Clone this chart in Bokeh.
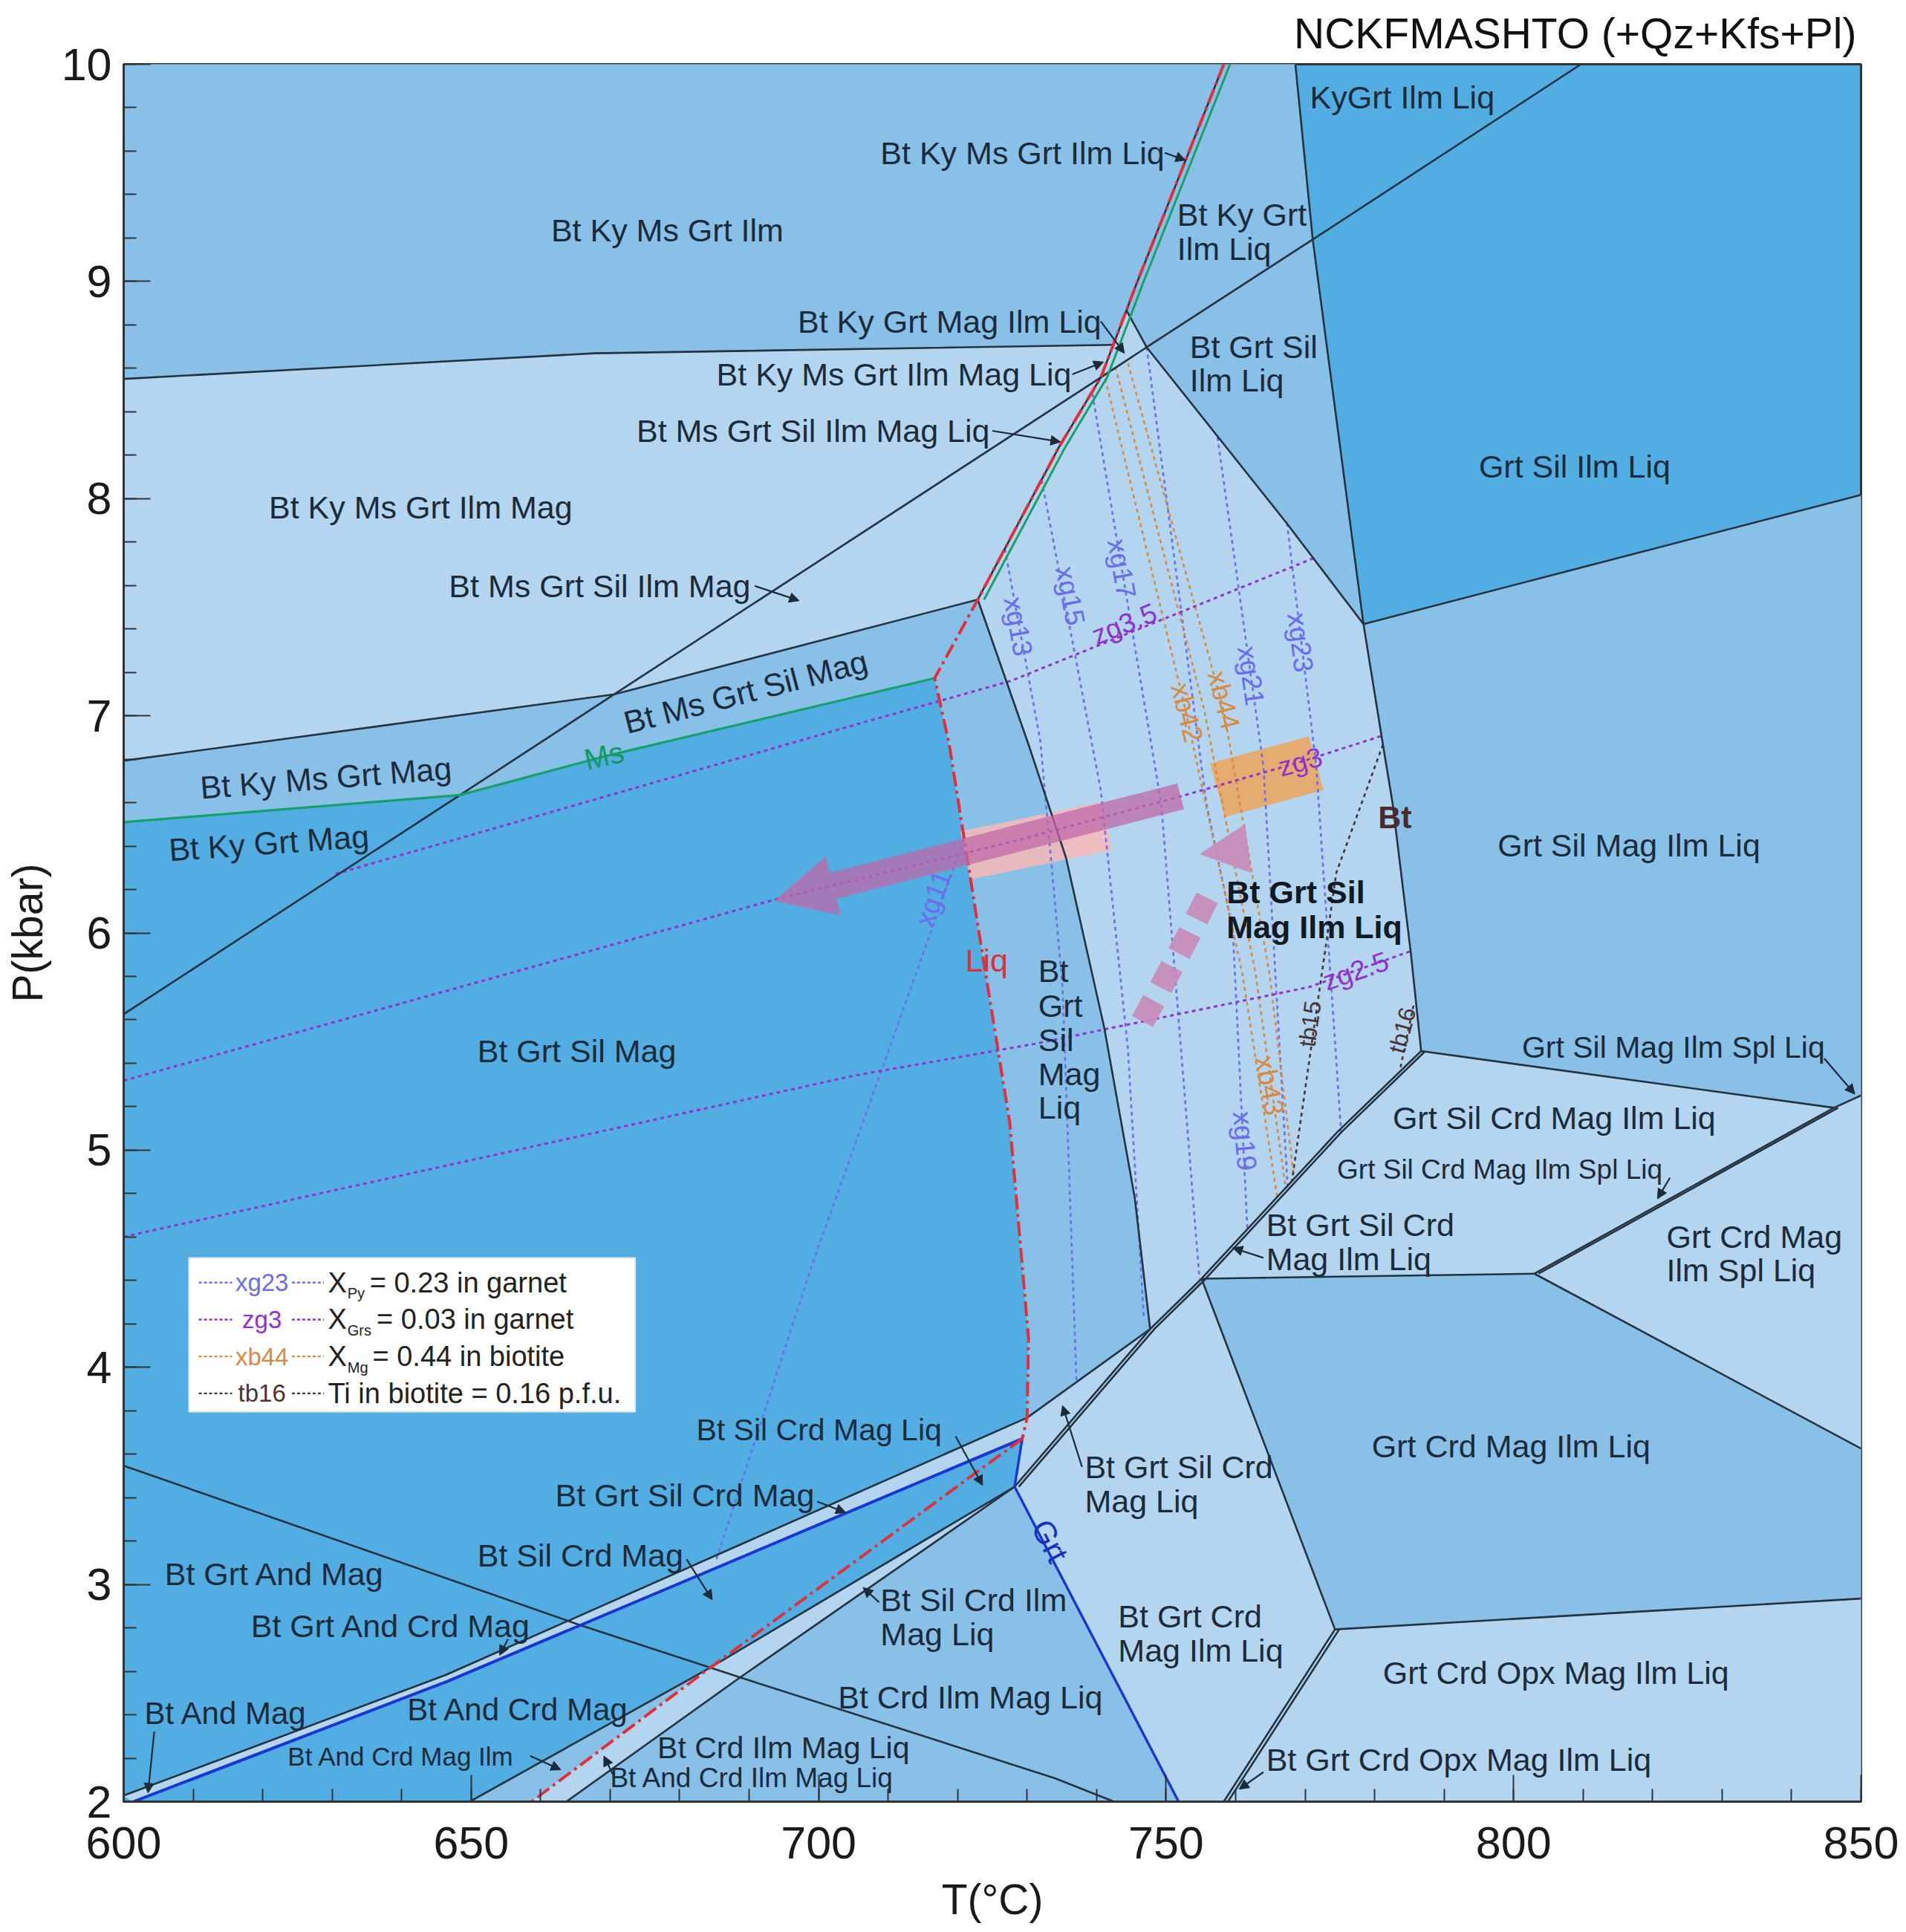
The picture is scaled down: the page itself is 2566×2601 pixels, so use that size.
import math
from bokeh.plotting import figure
from bokeh.models import (ColumnDataSource, Arrow, NormalHead,
                          SingleIntervalTicker, Range1d)
from bokeh.core.properties import value
from bokeh.embed import file_html
from bokeh.resources import INLINE

FONT = "Liberation Sans"

# ------------------------------------------------------------------
# DATA : nodes of the pseudosection (name, T in degC, P in kbar)
# ------------------------------------------------------------------
FRAME_NODES = [("TL", 600, 10), ("TR", 850, 10), ("BL", 600, 2), ("BR", 850, 2)]
UPPER_NODES = [
    ("S_top", 758.3, 10), ("V_top", 768.6, 10), ("D_top", 809.7, 10),
    ("H1_L", 600, 8.551), ("H1_m", 667.7, 8.669), ("H1_R", 742.4, 8.708),
    ("S1", 745.7, 8.986), ("M_top", 744.3, 8.867), ("S_diag", 740.6, 8.558),
    ("S3", 734.6, 8.238), ("K1", 722.9, 7.535), ("K2", 716.7, 7.173),
    ("M_diag", 747.2, 8.697), ("M2", 767.3, 7.889), ("N_R1", 778.4, 7.422),
    ("V_diag", 771.1, 9.193), ("R1", 850, 8.017),
    ("U_L", 600, 6.793), ("U_D", 670.6, 7.099), ("Ms_L", 600, 6.510),
    ("G1", 648.4, 6.635), ("Ms2", 668.8, 6.810), ("KS_L", 600, 5.626),
]
CENTRAL_NODES = [
    ("Bt1", 781.2, 6.867), ("Bt2", 782.6, 6.595), ("Bt3", 785.2, 5.912),
    ("N_R2", 786.7, 5.456), ("Sp", 846.1, 5.195), ("R2", 850, 5.252),
    ("N_C", 803.0, 4.431), ("R3", 850, 3.626), ("R4", 850, 2.935),
    ("E1", 774.3, 2.793), ("Ebot", 758.3, 2.0), ("Dn", 755.1, 4.408),
    ("D3", 774.6, 5.082), ("Dm", 747.7, 4.176), ("Dg", 728.2, 3.450),
    ("Gbot", 751.8, 2.0), ("Q", 730.0, 3.768), ("Qb", 729.3, 3.671),
    ("C1", 730.2, 6.868), ("C2", 735.6, 6.346), ("C3", 741.1, 5.564),
    ("C4", 745.5, 4.778), ("Sl1", 718.8, 6.867), ("Sl2", 723.1, 5.997),
    ("Sl3", 727.5, 5.127), ("Sl4", 730.2, 4.136),
]
LOWER_NODES = [
    ("La_L", 600, 3.547), ("X_ab", 665.4, 2.816), ("X_ar", 684.4, 2.617),
    ("X_ae", 688.7, 2.572), ("La4", 734.0, 2.108), ("La_bot", 742.5, 2.0),
    ("Lb_L", 600, 2.028), ("Lb_m", 646.4, 2.584), ("Bl_bot", 601.4, 2.0),
    ("Bl_m", 646.5, 2.553), ("Red_bot", 658.7, 2.0), ("Ld_bot", 649.8, 2.0),
    ("Le_bot", 663.7, 2.0),
]
NODE = {n: (t, pp) for n, t, pp in FRAME_NODES + UPPER_NODES + CENTRAL_NODES + LOWER_NODES}

# fields (polygons by node names)
MEDIUM_FIELDS = [
    ["TL", "S_top", "S1", "M_top", "H1_R", "H1_m", "H1_L"],
    ["S_top", "V_top", "V_diag", "M_diag", "M_top", "S1"],
    ["M_diag", "V_diag", "N_R1", "M2"],
    ["N_R1", "R1", "R2", "Sp", "N_R2", "Bt3", "Bt2", "Bt1"],
    ["U_L", "U_D", "K1", "K2", "Ms2", "G1", "Ms_L"],
    ["K1", "C1", "C2", "C3", "C4", "Dm", "Q", "Sl4", "Sl3", "Sl2", "Sl1", "K2"],
    ["Dn", "N_C", "R3", "R4", "E1"],
    ["Le_bot", "X_ae", "Dg", "Gbot"],
    ["Ld_bot", "X_ar", "Red_bot"],
]
LIGHT_FIELDS = [
    ["H1_L", "H1_m", "H1_R", "S_diag", "S3", "K1", "U_D", "U_L"],
    ["M_top", "M_diag", "S_diag", "H1_R"],
    ["S_diag", "M_diag", "M2", "N_R1", "Bt1", "Bt2", "Bt3", "N_R2", "D3", "Dn",
     "Dm", "C4", "C3", "C2", "C1", "K1", "S3"],
    ["N_R2", "Sp", "N_C", "Dn", "D3"],
    ["N_C", "Sp", "R2", "R3"],
    ["Dg", "Dm", "Dn", "E1", "Ebot", "Gbot"],
    ["E1", "R4", "BR", "Ebot"],
    ["Red_bot", "X_ar", "Dg", "X_ae", "Le_bot"],
    ["Lb_L", "Lb_m", "Q", "Qb", "Bl_m", "Bl_bot"],
    ["Q", "Dm", "Dg", "Qb"],
]

# reaction lines
BOUNDARIES = [
    ["H1_L", "H1_m", "H1_R"], ["U_L", "U_D", "K1"],
    ["KS_L", "G1", "U_D", "S_diag", "M_diag", "V_diag", "D_top"],
    ["V_top", "V_diag", "N_R1"], ["N_R1", "R1"], ["M_top", "M_diag", "M2", "N_R1"],
    ["N_R1", "Bt1", "Bt2", "Bt3", "N_R2"], ["N_R2", "Sp", "R2"], ["Sp", "N_C"],
    ["N_C", "R3"], ["Dn", "N_C"], ["Dn", "E1", "Ebot"], ["E1", "R4"],
    ["Dg", "Dm", "Dn", "D3", "N_R2"], ["K1", "C1", "C2", "C3", "C4", "Dm"],
    ["Q", "Dm"], ["Lb_L", "Lb_m", "Q"],
    ["La_L", "X_ab", "X_ar", "X_ae", "La4", "La_bot"],
    ["Ld_bot", "X_ar", "Dg"], ["Le_bot", "X_ae", "Dg"],
    ["S_top", "S1", "M_top", "H1_R", "S_diag", "S3", "K1"],
]
DOUBLED = [["Dg", "Dm", "Dn", "D3", "N_R2"], ["E1", "Ebot"], ["Sp", "N_C"]]
SOLIDUS_UPPER = ["S_top", "S1", "M_top", "H1_R", "S_diag", "S3", "K1", "K2",
                 "Sl1", "Sl2", "Sl3", "Sl4", "Q", "Qb"]
SOLIDUS_LOWER = ["Qb", "X_ar", "Red_bot"]
MS_UPPER = ["S_top", "S1", "M_top", "H1_R", "S_diag", "S3", "K1"]
MS_LOWER = ["Ms_L", "G1", "Ms2", "K2"]
GRT_OUT = ["Bl_bot", "Bl_m", "Qb"]
GRT_LINE = ["Qb", "Dg", "Gbot"]

# isopleths (T, P)
XG11_T = [685.3, 699.1, 720.9];               XG11_P = [3.116, 4.476, 6.431]
XG13_T = [726.8, 731.9, 735.1, 737.1];        XG13_P = [7.768, 6.884, 5.751, 3.938]
XG15_T = [732.1, 740.6, 744.5, 746.8];        XG15_P = [8.085, 6.657, 5.467, 4.221]
XG17_T = [739.4, 749.3, 754.8];               XG17_P = [8.482, 6.595, 4.408]
XG19_T = [747.2, 755.8, 759.6, 761.7];        XG19_P = [8.697, 6.595, 6.011, 4.629]
XG21_T = [757.4, 764.0, 767.5];               XG21_P = [8.283, 6.770, 4.821]
XG23_T = [767.4, 771.6, 775.2];               XG23_P = [7.887, 6.770, 5.076]
XB42_T = [741.0, 752.8, 761.0, 766.0];        XB42_P = [8.584, 7.025, 5.807, 4.782]
XB43_T = [742.7, 755.5, 762.9, 767.2];        XB43_P = [8.606, 7.025, 5.807, 4.827]
XB44_T = [744.5, 758.3, 764.9, 768.4];        XB44_P = [8.623, 7.025, 5.807, 4.873]
ZG35_T = [630.5, 705.1, 727.7, 771.4];        ZG35_P = [6.272, 6.957, 7.161, 7.728]
ZG3_T = [600, 694.3, 727.7, 752.1, 769.3, 781.0]
ZG3_P = [5.320, 6.159, 6.419, 6.629, 6.787, 6.907]
ZG25_T = [600, 705.1, 731.2, 770.6, 785.1];   ZG25_P = [4.601, 5.343, 5.490, 5.751, 5.915]
TB15_T = [781.2, 774.5, 768.1];               TB15_P = [6.867, 6.278, 4.856]
TB16_T = [785.6, 783.7];                      TB16_P = [5.666, 5.377]

# P-T path
PEAK_T = [721.1, 741.5];   PEAK_P = [6.357, 6.493]
MAXP_T = [757.4, 771.6];   MAXP_P = [6.657, 6.782]
RETRO_T = [752.1, 693.6];  RETRO_P = [6.629, 6.147]
PRO_T = [746.6, 750.7, 753.4, 756.4];  PRO_P = [5.592, 5.836, 6.000, 6.193]
PRO_HEAD_T = [761.4, 754.8];  PRO_HEAD_P = [6.388, 6.363]

# field labels
LABEL_TEXT = ["Bt Ky Ms Grt Ilm Liq", "Bt Ky Ms Grt Ilm", "Bt Ky Grt", "Ilm Liq", "KyGrt Ilm Liq",
              "Bt Ky Grt Mag Ilm Liq", "Bt Grt Sil", "Ilm Liq", "Bt Ky Ms Grt Ilm Mag Liq",
              "Bt Ms Grt Sil Ilm Mag Liq", "Grt Sil Ilm Liq", "Bt Ky Ms Grt Ilm Mag",
              "Bt Ms Grt Sil Ilm Mag", "Grt Sil Mag Ilm Liq", "Bt", "Grt", "Sil", "Mag", "Liq",
              "Bt Grt Sil Mag", "Grt Sil Mag Ilm Spl Liq", "Grt Sil Crd Mag Ilm Liq",
              "Grt Sil Crd Mag Ilm Spl Liq", "Bt Grt Sil Crd", "Mag Ilm Liq", "Grt Crd Mag",
              "Ilm Spl Liq", "Grt Crd Mag Ilm Liq", "Bt Sil Crd Mag Liq", "Bt Grt Sil Crd",
              "Mag Liq", "Bt Grt Sil Crd Mag", "Bt Sil Crd Mag", "Bt Grt And Mag",
              "Bt Sil Crd Ilm", "Mag Liq", "Bt Grt Crd", "Mag Ilm Liq", "Bt Grt And Crd Mag",
              "Grt Crd Opx Mag Ilm Liq", "Bt Crd Ilm Mag Liq", "Bt And Mag", "Bt And Crd Mag",
              "Bt Crd Ilm Mag Liq", "Bt And Crd Mag Ilm", "Bt And Crd Ilm Mag Liq",
              "Bt Grt Crd Opx Mag Ilm Liq"]
LABEL_T = [708.9, 661.5, 751.6, 751.6, 770.7, 697.0, 753.4, 753.4, 685.3, 673.8, 795.0, 620.9,
           646.8, 797.7, 731.6, 731.6, 731.6, 731.6, 731.6, 650.9, 801.2, 782.6, 774.6, 764.4,
           764.4, 822.0, 822.0, 779.6, 682.4, 738.3, 738.3, 662.1, 650.9, 605.9, 708.9, 708.9,
           743.1, 743.1, 618.3, 781.2, 702.8, 603.0, 640.8, 676.8, 623.6, 670.0, 764.4]
LABEL_P = [9.592, 9.235, 9.309, 9.150, 9.847, 8.816, 8.697, 8.544, 8.572, 8.312, 8.147, 7.960,
           7.598, 6.402, 5.824, 5.666, 5.507, 5.349, 5.195, 5.456, 5.473, 5.150, 4.912, 4.657,
           4.499, 4.601, 4.448, 3.637, 3.711, 3.541, 3.382, 3.411, 3.133, 3.048, 2.929, 2.770,
           2.855, 2.697, 2.810, 2.595, 2.482, 2.408, 2.425, 2.249, 2.210, 2.108, 2.193]
LABEL_SIZE = [43, 43, 43, 43, 43, 43, 43, 43, 43, 43, 43, 43, 43, 43, 43, 43, 43, 43, 43, 43, 41,
              43, 37, 43, 43, 43, 43, 43, 41, 43, 43, 43, 43, 43, 43, 43, 43, 43, 43, 43, 43, 42,
              42, 41, 35, 37, 43]

# rotated labels along lines
ROT_TEXT = ["Bt Ms Grt Sil Mag", "Bt Ky Ms Grt Mag", "Bt Ky Grt Mag"]
ROT_T = [689.5, 629.1, 620.9]
ROT_P = [7.11, 6.714, 6.414]
ROT_ANGLE = [14.5, 4.5, 4.0]

ISO_TEXT = ["xg11", "xg13", "xg15", "xg17", "zg3.5", "xb42", "xb44", "xg21", "xg23", "zg3",
            "zg2.5", "tb15", "tb16", "xb43", "xg19"]
ISO_T = [716.5, 728.7, 736.2, 743.6, 744.0, 753.0, 758.3, 762.2, 769.3, 769.3, 777.3, 770.7,
         784.0, 764.9, 761.3]
ISO_P = [6.159, 7.411, 7.552, 7.677, 7.422, 7.014, 7.071, 7.184, 7.337, 6.787, 5.824, 5.581,
         5.552, 5.297, 5.042]
ISO_ANGLE = [70, -80, -79, -80, 22, -76, -76, -82, -83, 15, 19, 82, 75, -80, -85]
ISO_KIND = ["xg", "xg", "xg", "xg", "zg", "xb", "xb", "xg", "xg", "zg", "zg", "tb", "tb", "xb", "xg"]

# leader arrows (label -> field)
LEAD_T0 = [749.8, 740.6, 736.5, 725.0, 690.8, 844.7, 822.5, 764.0, 719.7, 737.9, 699.8, 681.0,
           708.7, 655.3, 604.4, 658.5, 670.4, 764.0]
LEAD_P0 = [9.592, 8.816, 8.572, 8.312, 7.598, 5.422, 4.873, 4.504, 3.683, 3.541, 3.382, 3.116,
           2.918, 2.748, 2.323, 2.210, 2.125, 2.136]
LEAD_T1 = [752.8, 744.0, 741.0, 734.8, 697.2, 849.1, 820.7, 759.6, 723.6, 735.1, 703.9, 684.7,
           706.4, 654.1, 603.5, 662.9, 669.1, 760.5]
LEAD_P1 = [9.558, 8.669, 8.629, 8.261, 7.530, 5.258, 4.776, 4.550, 3.456, 3.824, 3.331, 2.929,
           2.986, 2.674, 2.040, 2.147, 2.210, 2.057]

# legend
LEG_KEY = ["xg23", "zg3", "xb44", "tb16"]
LEG_KIND = ["xg", "zg", "xb", "tb"]
LEG_SUB = ["Py", "Grs", "Mg", ""]
LEG_REST = ["= 0.23 in garnet", "= 0.03 in garnet", "= 0.44 in biotite",
            "Ti in biotite = 0.16 p.f.u."]

# ------------------------------------------------------------------
DARK, MED, LIGHT = "#52ade2", "#88c0e8", "#b4d5f0"
LINE = "#25323f"
TXT = "#1c2b3a"
KIND_COLOR = {"xg": "#6c6cec", "zg": "#9232cc", "xb": "#d98a3f", "tb": "#4a3434"}


def pts(names, dt=0.0):
    return [NODE[n][0] + dt for n in names], [NODE[n][1] for n in names]


p = figure(width=2560, height=2600, x_range=Range1d(600, 850), y_range=Range1d(2, 10),
           output_backend="svg", toolbar_location=None,
           min_border_left=166, min_border_right=55, min_border_top=83, min_border_bottom=175,
           background_fill_color=DARK, border_fill_color="white",
           title="NCKFMASHTO (+Qz+Kfs+Pl)")
p.title.align = "right"
p.title.text_font = FONT
p.title.text_font_size = "57px"
p.title.text_font_style = "normal"
p.title.text_color = "#111111"
p.title.offset = 6
p.title.standoff = 20
p.xgrid.visible = False
p.ygrid.visible = False
p.outline_line_color = "#333333"
p.outline_line_width = 3

# fields
fx, fy, fc = [], [], []
for flist, col in ((MEDIUM_FIELDS, MED), (LIGHT_FIELDS, LIGHT)):
    for f in flist:
        x, y = pts(f)
        fx.append(x); fy.append(y); fc.append(col)
p.patches(xs="xs", ys="ys", fill_color="c", line_color="c", line_width=1.2,
          source=ColumnDataSource(dict(xs=fx, ys=fy, c=fc)))

# P-T bands
p.line(PEAK_T, PEAK_P, line_width=66, line_color="#f8b9b9", line_alpha=0.85, line_cap="butt")
p.line(MAXP_T, MAXP_P, line_width=75, line_color="#eda45a", line_alpha=0.85, line_cap="butt")

# isopleths
iso_groups = {
    "xg": [(XG11_T, XG11_P), (XG13_T, XG13_P), (XG15_T, XG15_P), (XG17_T, XG17_P),
           (XG19_T, XG19_P), (XG21_T, XG21_P), (XG23_T, XG23_P)],
    "xb": [(XB42_T, XB42_P), (XB43_T, XB43_P), (XB44_T, XB44_P)],
    "zg": [(ZG35_T, ZG35_P), (ZG3_T, ZG3_P), (ZG25_T, ZG25_P)],
    "tb": [(TB15_T, TB15_P), (TB16_T, TB16_P)],
}
for kind, lines in iso_groups.items():
    p.multi_line(xs=[l[0] for l in lines], ys=[l[1] for l in lines],
                 line_color=KIND_COLOR[kind], line_width=2.6 if kind != "zg" else 3,
                 line_dash="5 5")

# reaction lines
bx, by = [], []
for b in BOUNDARIES:
    x, y = pts(b); bx.append(x); by.append(y)
for b in DOUBLED:
    x, y = pts(b, 0.6); bx.append(x); by.append(y)
p.multi_line(xs=bx, ys=by, line_color=LINE, line_width=2.6)

x, y = pts(MS_UPPER, 0.9)
p.line(x, y, line_color="#17a06a", line_width=3)
x, y = pts(MS_LOWER)
p.line(x, y, line_color="#17a06a", line_width=3.2)
x, y = pts(GRT_OUT)
p.line(x, y, line_color="#1736d2", line_width=4)
x, y = pts(GRT_LINE)
p.line(x, y, line_color="#1736d2", line_width=3.4)
for s in (SOLIDUS_UPPER, SOLIDUS_LOWER):
    x, y = pts(s)
    p.line(x, y, line_color="#e0303a", line_width=4, line_dash="20 6 4 6")

# retrograde & prograde arrows
p.add_layout(Arrow(end=NormalHead(size=82, fill_color="#bf6aa8", fill_alpha=0.75,
                                  line_color="#bf6aa8", line_alpha=0.0),
                   x_start=RETRO_T[0], y_start=RETRO_P[0], x_end=RETRO_T[1], y_end=RETRO_P[1],
                   line_color="#bf6aa8", line_alpha=0.75, line_width=36))
p.line(PRO_T, PRO_P, line_width=32, line_dash="32 20", line_color="#c98ab8", line_alpha=0.9)
p.add_layout(Arrow(end=NormalHead(size=66, fill_color="#c98ab8", fill_alpha=0.9,
                                  line_color="#c98ab8", line_alpha=0.0),
                   x_start=PRO_HEAD_T[0], y_start=PRO_HEAD_P[0],
                   x_end=PRO_HEAD_T[1], y_end=PRO_HEAD_P[1],
                   line_alpha=0.0, line_width=1))

# leaders
p.add_layout(Arrow(end=NormalHead(size=13, fill_color=TXT, line_color=TXT),
                   x_start="x0", y_start="y0", x_end="x1", y_end="y1",
                   line_color=TXT, line_width=2.2,
                   source=ColumnDataSource(dict(x0=LEAD_T0, y0=LEAD_P0, x1=LEAD_T1, y1=LEAD_P1))))

# field labels
p.text(x="x", y="y", text="t", text_font_size="s", source=ColumnDataSource(dict(
    x=LABEL_T, y=LABEL_P, t=LABEL_TEXT, s=["%dpx" % v for v in LABEL_SIZE])),
    text_font=value(FONT), text_color=TXT, text_align="left", text_baseline="middle")
p.text(x=[758.7, 758.7], y=[6.187, 6.028], text=["Bt Grt Sil", "Mag Ilm Liq"],
       text_font=value(FONT), text_font_size="43px", text_font_style="bold",
       text_color="#111a24", text_align="left", text_baseline="middle")
p.text(x=[780.5], y=[6.533], text=["Bt"], text_font=value(FONT), text_font_size="43px",
       text_font_style="bold", text_color="#4a2b2b", text_align="left", text_baseline="middle")
p.text(x=[721.1], y=[5.875], text=["Liq"], text_font=value(FONT), text_font_size="43px",
       text_color="#d8323c", text_align="left", text_baseline="middle")
p.text(x="x", y="y", text="t", angle="a", source=ColumnDataSource(dict(
    x=ROT_T, y=ROT_P, t=ROT_TEXT, a=[math.radians(v) for v in ROT_ANGLE])),
    text_font=value(FONT), text_font_size="43px", text_color=TXT,
    text_align="center", text_baseline="middle")
p.text(x=[669.1], y=[6.816], text=["Ms"], angle=[math.radians(13)], text_font=value(FONT),
       text_font_size="40px", text_color="#139a62", text_align="center", text_baseline="middle")
p.text(x=[733.3], y=[3.20], text=["Grt"], angle=[math.radians(-62.5)], text_font=value(FONT),
       text_font_size="42px", text_color="#1530c8", text_align="center", text_baseline="middle")
p.text(x="x", y="y", text="t", angle="a", text_color="c", text_font_size="s",
       source=ColumnDataSource(dict(
           x=ISO_T, y=ISO_P, t=ISO_TEXT, a=[math.radians(v) for v in ISO_ANGLE],
           c=[KIND_COLOR[k] for k in ISO_KIND],
           s=["32px" if k == "tb" else "37px" for k in ISO_KIND])),
       text_font=value(FONT), text_align="center", text_baseline="middle")

# legend box
LEG_P = [4.39, 4.22, 4.05, 3.88]
p.quad(left=[609.4], right=[673.6], bottom=[3.796], top=[4.504], fill_color="white",
       line_color="#e4e4e4", line_width=2)
lx, ly, lc = [], [], []
for k, yy in zip(LEG_KIND, LEG_P):
    for a, b in ((610.8, 615.6), (624.2, 628.8)):
        lx.append([a, b]); ly.append([yy, yy]); lc.append(KIND_COLOR[k])
p.multi_line(xs=lx, ys=ly, line_color=lc, line_width=2.4, line_dash="4 3")
p.text(x=[619.9] * 4, y=LEG_P, text=LEG_KEY, text_color=[KIND_COLOR[k] for k in LEG_KIND],
       text_font=value(FONT), text_font_size="33px", text_align="center",
       text_baseline="middle")
p.text(x=[629.4] * 3, y=LEG_P[:3], text=["X"] * 3, text_font=value(FONT),
       text_font_size="38px", text_color="#222222", text_align="left", text_baseline="middle")
p.text(x=[632.2] * 3, y=[v - 0.05 for v in LEG_P[:3]], text=LEG_SUB[:3], text_font=value(FONT),
       text_font_size="20px", text_color="#222222", text_align="left", text_baseline="middle")
p.text(x=[635.4, 636.4, 635.8, 629.4], y=LEG_P, text=LEG_REST, text_font=value(FONT),
       text_font_size="38px", text_color="#222222", text_align="left", text_baseline="middle")

# axes
p.xaxis.ticker = SingleIntervalTicker(interval=50, num_minor_ticks=5)
p.yaxis.ticker = SingleIntervalTicker(interval=1, num_minor_ticks=5)
for ax in (p.xaxis, p.yaxis):
    ax.major_tick_in = 36
    ax.major_tick_out = 0
    ax.minor_tick_in = 17
    ax.minor_tick_out = 0
    ax.major_tick_line_color = "#333333"
    ax.minor_tick_line_color = "#333333"
    ax.major_tick_line_width = 2
    ax.minor_tick_line_width = 2
    ax.axis_line_color = "#333333"
    ax.axis_line_width = 3
    ax.major_label_text_font = FONT
    ax.major_label_text_font_size = "61px"
    ax.major_label_text_color = "#1a1a1a"
    ax.axis_label_text_font = FONT
    ax.axis_label_text_font_size = "57px"
    ax.axis_label_text_font_style = "normal"
    ax.axis_label_text_color = "#1a1a1a"
p.xaxis.major_label_standoff = 34
p.yaxis.major_label_standoff = 16
p.xaxis.axis_label = "T(°C)"
p.yaxis.axis_label = "P(kbar)"
p.xaxis.axis_label_standoff = 20
p.yaxis.axis_label_standoff = 11

open("out.html", "w").write(file_html(p, INLINE))
